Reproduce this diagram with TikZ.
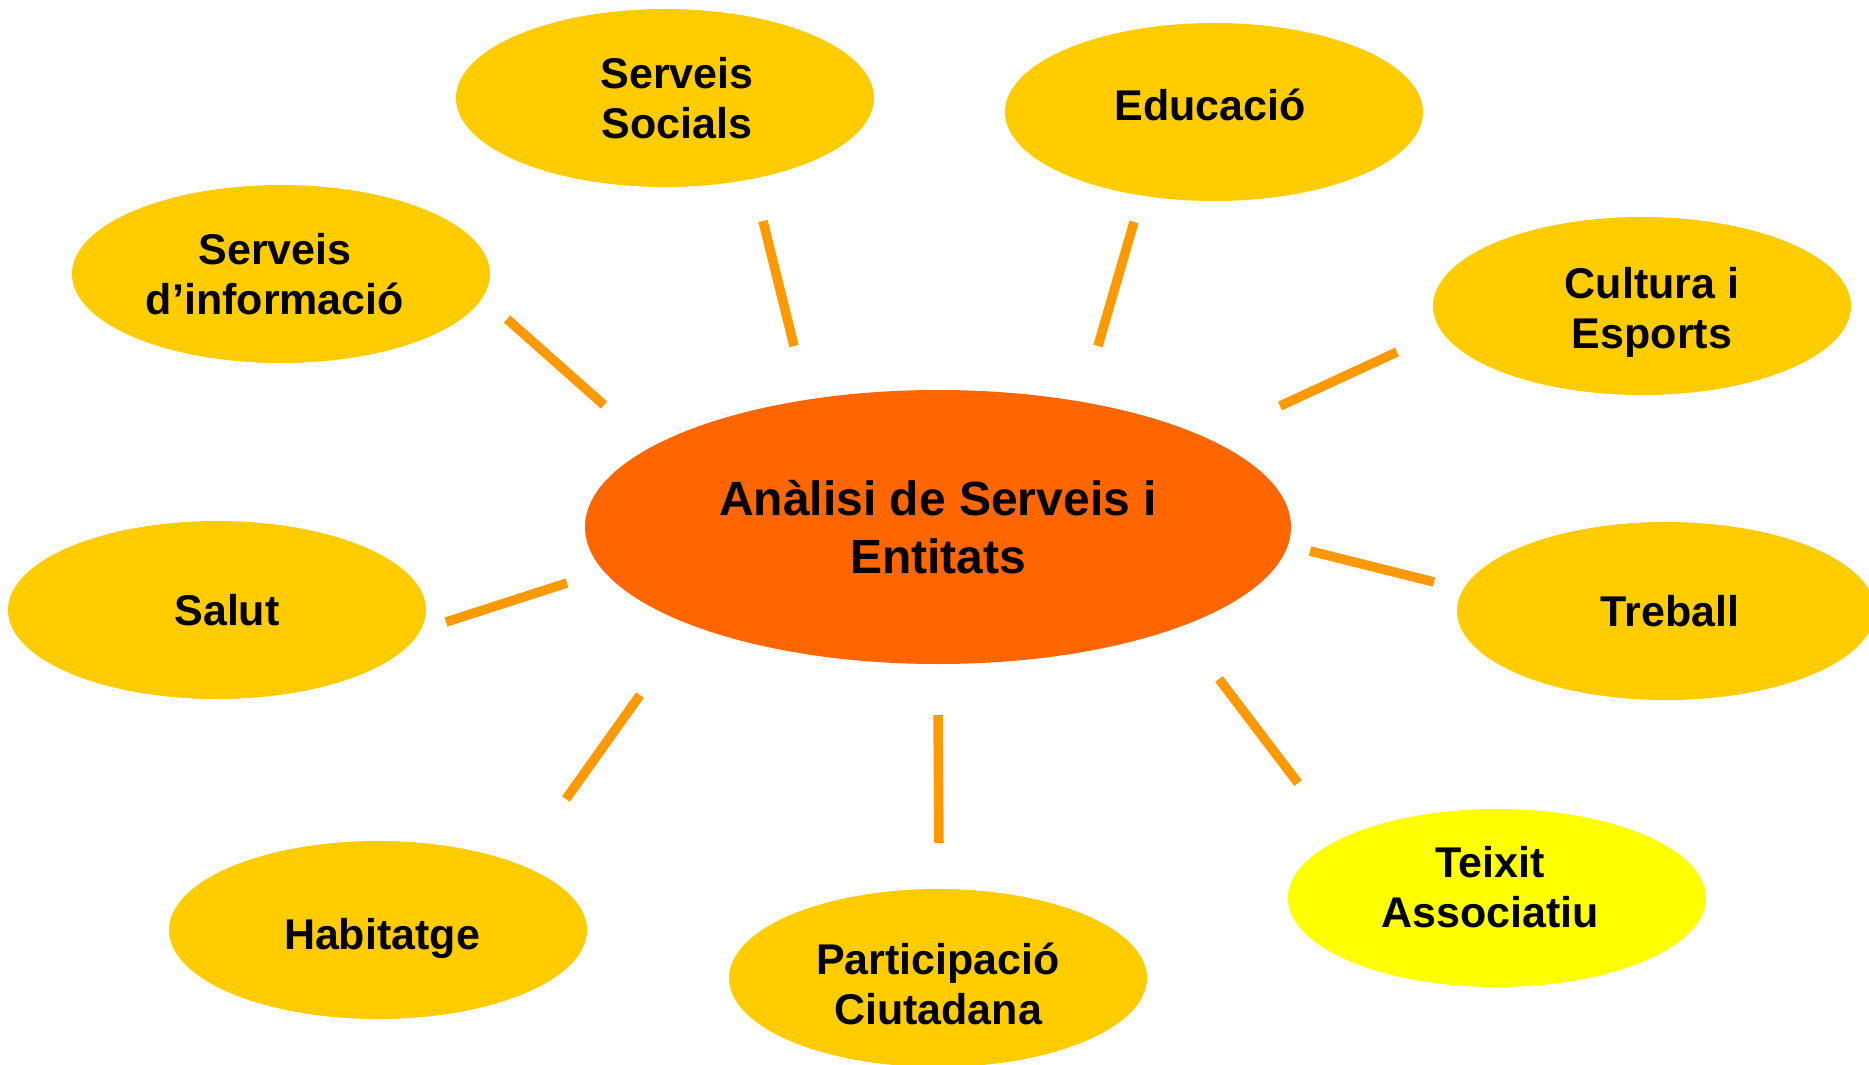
\documentclass[tikz,border=0pt]{standalone}
\usepackage{fontspec}
\setmainfont{Liberation Sans}
\usetikzlibrary{shapes.geometric}
\definecolor{petal}{HTML}{FFCC00}
\definecolor{hub}{HTML}{FF6600}
\definecolor{brightpetal}{HTML}{FFFF00}
\definecolor{spoke}{HTML}{FF9900}
\begin{document}
\begin{tikzpicture}[x=1pt,y=-1pt,
  petalnode/.style={ellipse,fill=petal,minimum width=418pt,minimum height=178pt,inner sep=0pt},
  petaltext/.style={align=center,inner sep=0pt,font=\fontsize{43}{50}\selectfont\bfseries},
  hubnode/.style={ellipse,fill=hub,minimum width=706pt,minimum height=274pt,inner sep=0pt,align=center,
    font=\fontsize{48}{58}\selectfont\bfseries},
  spokeline/.style={draw=spoke,line width=9.5pt}]
\useasboundingbox (0,0) rectangle (1869,1065);
\clip (0,0) rectangle (1869,1065);
\node[hubnode] (hub) at (938,527) {Anàlisi de Serveis i\\Entitats};
\node[petalnode] (socials) at (665,98) {};
\node[petalnode] (educ) at (1214,112) {};
\node[petalnode] (info) at (281,274) {};
\node[petalnode] (cult) at (1642,306) {};
\node[petalnode] (salut) at (217,610) {};
\node[petalnode] (treball) at (1666,611) {};
\node[petalnode] (habit) at (378,930) {};
\node[petalnode] (part) at (938,978) {};
\node[petalnode,fill=brightpetal] (teixit) at (1497,898) {};
\node[petaltext] (tsocials) at ([shift={(12,0)}]socials) {Serveis\\Socials};
\node[petaltext] (teduc) at ([shift={(-4,-7)}]educ) {Educació};
\node[petaltext] (tinfo) at ([shift={(-6,0)}]info) {Serveis\\d’informació};
\node[petaltext] (tcult) at ([shift={(10,6)}]cult) {Cultura i\\Esports};
\node[petaltext] (tsalut) at ([shift={(10,0)}]salut) {Salut};
\node[petaltext] (ttreball) at ([shift={(4,0)}]treball) {Treball};
\node[petaltext] (thabit) at ([shift={(4,8)}]habit) {Habitatge};
\node[petaltext] (tpart) at ([shift={(0,6)}]part) {Participació\\Ciutadana};
\node[petaltext] (tteixit) at ([shift={(-7,-11)}]teixit) {Teixit\\Associatiu};
% spokes
\coordinate (a1) at (507,319); \coordinate (b1) at (604,405);
\coordinate (a2) at (763,221); \coordinate (b2) at (794,346);
\coordinate (a3) at (1134,222); \coordinate (b3) at (1098,346);
\coordinate (a4) at (1397,352); \coordinate (b4) at (1280,406);
\coordinate (a5) at (1310,551); \coordinate (b5) at (1434,582);
\coordinate (a6) at (1219,679); \coordinate (b6) at (1298,783);
\coordinate (a7) at (938,715); \coordinate (b7) at (939,843);
\coordinate (a8) at (640,695); \coordinate (b8) at (566,799);
\coordinate (a9) at (567,583); \coordinate (b9) at (446,622);
\foreach \i in {1,...,9}{\draw[spokeline] (a\i) -- (b\i);}
\end{tikzpicture}
\end{document}
